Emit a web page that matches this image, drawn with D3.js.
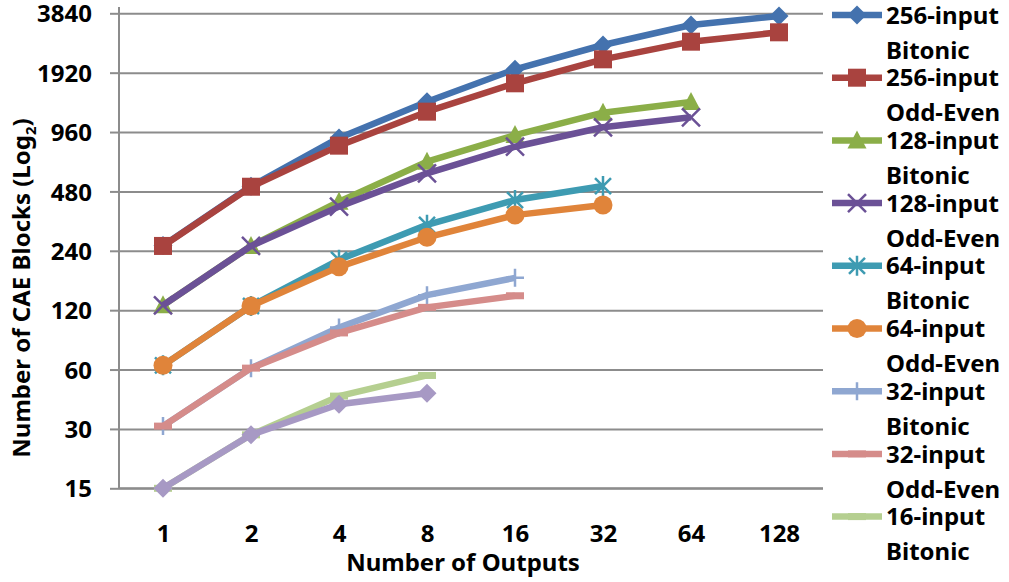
<!DOCTYPE html>
<html>
<head>
<meta charset="utf-8">
<script src="https://cdn.jsdelivr.net/npm/d3@7"></script>
<style>
  html, body { margin: 0; padding: 0; background: #fff; }
  svg { display: block; }
  text { font-family: "Noto Sans", sans-serif; font-weight: bold; fill: #000; }
</style>
</head>
<body>
<svg id="chart" width="1009" height="582"></svg>
<script>
// ---------- DATA ----------
const categories = ["1", "2", "4", "8", "16", "32", "64", "128"];
const yTickValues = [15, 30, 60, 120, 240, 480, 960, 1920, 3840];

const seriesNames = [
  "256-input Bitonic", "256-input Odd-Even",
  "128-input Bitonic", "128-input Odd-Even",
  "64-input Bitonic", "64-input Odd-Even",
  "32-input Bitonic", "32-input Odd-Even",
  "16-input Bitonic", "16-input Odd-Even"
];
const bitonic256 = [255, 510, 896, 1368, 1998, 2652, 3350, 3720];
const oddEven256 = [254, 507, 819, 1218, 1696, 2244, 2757, 3076];
const bitonic128 = [127, 254, 426, 679, 927, 1203, 1363];
const oddEven128 = [127, 254, 402, 593, 809, 1015, 1140];
const bitonic64  = [63, 126, 216, 325, 434, 511];
const oddEven64  = [63, 126, 199, 281, 364, 410];
const bitonic32  = [31, 61, 98, 143, 175];
const oddEven32  = [31, 61, 92, 124, 142];
const bitonic16  = [15, 28, 44, 56];
const oddEven16  = [15, 28, 40, 45.5];

const seriesValues = [bitonic256, oddEven256, bitonic128, oddEven128, bitonic64,
                      oddEven64, bitonic32, oddEven32, bitonic16, oddEven16];
const seriesColors = ["#4472AE", "#A9433F", "#8BAE48", "#6B5196", "#3E9BB2",
                      "#E0843A", "#8FA7D1", "#D58C8A", "#B5CF90", "#A799C4"];
const seriesMarkers = ["diamond", "square", "triangle", "x", "star",
                       "circle", "plus", "dash", "dash", "diamond"];

// ---------- LAYOUT ----------
const svg = d3.select("#chart");
const pLeft = 119, pRight = 823, pTop = 13.3, pBottom = 488.3;
const FS = 24;

const x = d3.scalePoint().domain(categories).range([pLeft, pRight]).padding(0.5);
const y = d3.scaleLog().base(2).domain([15, 3840]).range([pBottom, pTop]);

// gridlines
const grid = svg.append("g").attr("transform", `translate(${pLeft},0)`)
  .call(d3.axisLeft(y).tickValues(yTickValues).tickSize(-(pRight - pLeft)).tickFormat(""));
grid.select(".domain").remove();
grid.selectAll("line").attr("stroke", "#8c8c8c").attr("stroke-width", 2);

// y axis ticks + labels
const yAx = svg.append("g").attr("transform", `translate(${pLeft},0)`)
  .call(d3.axisLeft(y).tickValues(yTickValues).tickSize(9).tickPadding(18)
        .tickFormat(d3.format("d")));
yAx.select(".domain").remove();
yAx.selectAll("line").attr("stroke", "#8c8c8c").attr("stroke-width", 2);
yAx.selectAll("text").style("font-size", FS + "px").attr("dy", "0.36em");

// vertical axis line
svg.append("line").attr("x1", pLeft).attr("x2", pLeft).attr("y1", 7).attr("y2", pBottom)
  .attr("stroke", "#8c8c8c").attr("stroke-width", 2);
// horizontal axis line
svg.append("line").attr("x1", pLeft).attr("x2", pRight).attr("y1", pBottom).attr("y2", pBottom)
  .attr("stroke", "#8c8c8c").attr("stroke-width", 2);

// x axis labels
const xAx = svg.append("g").attr("transform", `translate(0,${pBottom})`)
  .call(d3.axisBottom(x).tickSize(0).tickPadding(37));
xAx.select(".domain").remove();
xAx.selectAll("text").style("font-size", FS + "px");

// axis titles
svg.append("text").attr("x", 463).attr("y", 571).attr("text-anchor", "middle")
  .style("font-size", FS + "px").text("Number of Outputs");

const yt = svg.append("text").attr("transform", "translate(30,288) rotate(-90)")
  .attr("text-anchor", "middle").style("font-size", FS + "px");
yt.append("tspan").text("Number of CAE Blocks (Log");
yt.append("tspan").attr("dy", 6).style("font-size", "15px").text("2");
yt.append("tspan").attr("dy", -6).text(")");

// ---------- MARKERS ----------
function drawMarker(g, type, color, cx, cy) {
  const r = 9.5;
  switch (type) {
    case "diamond":
      g.append("path").attr("d", `M${cx},${cy - r}L${cx + r},${cy}L${cx},${cy + r}L${cx - r},${cy}Z`)
        .attr("fill", color); break;
    case "square":
      g.append("rect").attr("x", cx - 9).attr("y", cy - 9).attr("width", 18).attr("height", 18)
        .attr("fill", color); break;
    case "triangle":
      g.append("path").attr("d", `M${cx},${cy - 10}L${cx + 9.5},${cy + 8}L${cx - 9.5},${cy + 8}Z`)
        .attr("fill", color); break;
    case "circle":
      g.append("circle").attr("cx", cx).attr("cy", cy).attr("r", 9.5).attr("fill", color); break;
    case "x":
      g.append("path").attr("d", `M${cx - 9},${cy - 9}L${cx + 9},${cy + 9}M${cx - 9},${cy + 9}L${cx + 9},${cy - 9}`)
        .attr("stroke", color).attr("stroke-width", 2.5).attr("fill", "none"); break;
    case "star":
      g.append("path").attr("d", `M${cx - 8},${cy - 8}L${cx + 8},${cy + 8}M${cx - 8},${cy + 8}L${cx + 8},${cy - 8}M${cx},${cy - 10}L${cx},${cy + 10}`)
        .attr("stroke", color).attr("stroke-width", 2.5).attr("fill", "none"); break;
    case "plus":
      g.append("path").attr("d", `M${cx - 9},${cy}L${cx + 9},${cy}M${cx},${cy - 9}L${cx},${cy + 9}`)
        .attr("stroke", color).attr("stroke-width", 2.5).attr("fill", "none"); break;
    case "dash":
      g.append("rect").attr("x", cx - 9).attr("y", cy - 3.5).attr("width", 18).attr("height", 7)
        .attr("fill", color); break;
  }
}

// ---------- SERIES ----------
const line = d3.line().x(d => x(d[0])).y(d => y(d[1]));
seriesValues.forEach((vals, i) => {
  const pts = vals.map((v, j) => [categories[j], v]);
  const g = svg.append("g");
  g.append("path").attr("d", line(pts)).attr("fill", "none")
    .attr("stroke", seriesColors[i]).attr("stroke-width", 6.5)
    .attr("stroke-linejoin", "round");
  pts.forEach(p => drawMarker(g, seriesMarkers[i], seriesColors[i], x(p[0]), y(p[1])));
});

// ---------- LEGEND (entries that fit in the frame; the last one is cut off) ----------
const leg = svg.append("g");
seriesNames.forEach((name, i) => {
  const ly = 15 + 62.7 * i;
  if (ly > 560) return;
  const g = leg.append("g");
  g.append("line").attr("x1", 832).attr("x2", 882).attr("y1", ly).attr("y2", ly)
    .attr("stroke", seriesColors[i]).attr("stroke-width", 6.5);
  drawMarker(g, seriesMarkers[i], seriesColors[i], 857, ly);
  const parts = name.split(" ");
  g.append("text").attr("x", 886).attr("y", ly).attr("dy", "0.36em")
    .style("font-size", FS + "px").text(parts[0]);
  g.append("text").attr("x", 886).attr("y", ly + 35).attr("dy", "0.36em")
    .style("font-size", FS + "px").text(parts[1]);
});
</script>
</body>
</html>
